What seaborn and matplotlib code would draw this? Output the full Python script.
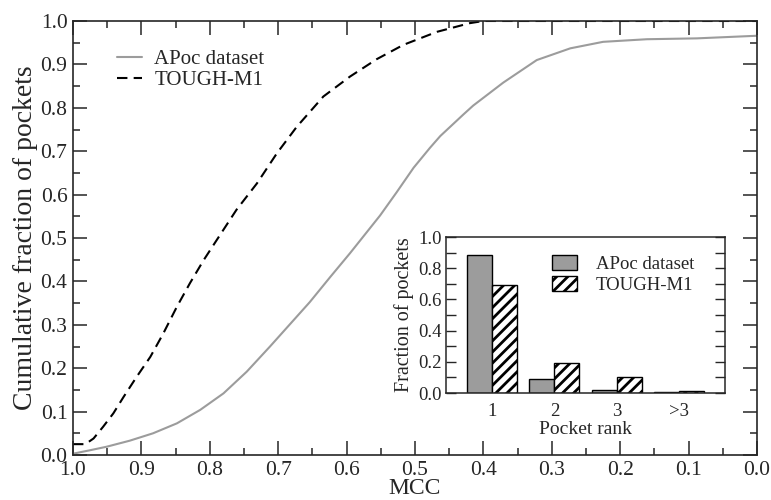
import matplotlib
matplotlib.use("Agg")
import matplotlib.pyplot as plt
import seaborn as sns
import pandas as pd
from matplotlib.ticker import MultipleLocator

# Cumulative fraction of pockets as a function of the MCC threshold
apoc_mcc = [1.0, 0.975, 0.951, 0.917, 0.883, 0.848, 0.814, 0.780, 0.746,
            0.712, 0.683, 0.654, 0.624, 0.595, 0.551, 0.527, 0.502, 0.478,
            0.463, 0.429, 0.415, 0.371, 0.322, 0.273, 0.225, 0.161, 0.088,
            0.0]
apoc_cum = [0.003, 0.011, 0.019, 0.033, 0.050, 0.073, 0.104, 0.142, 0.192,
            0.250, 0.301, 0.352, 0.410, 0.465, 0.552, 0.605, 0.662, 0.708,
            0.735, 0.785, 0.805, 0.858, 0.910, 0.937, 0.952, 0.958, 0.960,
            0.966]

tough_mcc = [1.0, 0.982, 0.970, 0.956, 0.941, 0.926, 0.907, 0.887, 0.868,
             0.848, 0.829, 0.809, 0.790, 0.761, 0.731, 0.702, 0.673, 0.634,
             0.595, 0.556, 0.517, 0.468, 0.420, 0.400, 0.0]
tough_cum = [0.025, 0.025, 0.038, 0.065, 0.096, 0.134, 0.180, 0.226, 0.280,
             0.342, 0.396, 0.449, 0.495, 0.565, 0.626, 0.695, 0.756, 0.826,
             0.872, 0.912, 0.945, 0.975, 0.995, 1.0, 1.0]

# Distribution of the rank of the best pocket
ranks = ["1", "2", "3", ">3"]
apoc_rank_frac = [0.885, 0.091, 0.021, 0.008]
tough_rank_frac = [0.69, 0.192, 0.104, 0.016]

series_names = ["APoc dataset", "TOUGH-M1"]

sns.set_style("ticks")
plt.rcParams["font.family"] = ["Liberation Serif", "DejaVu Serif"]
plt.rcParams["hatch.linewidth"] = 2.0
plt.rcParams["axes.linewidth"] = 1.2

fig = plt.figure(figsize=(7.71, 5.0), dpi=100)
ax = fig.add_axes([73 / 771, 45 / 500, 684 / 771, 434 / 500])

gray = "#9c9c9c"
sns.lineplot(x=apoc_mcc, y=apoc_cum, ax=ax, color=gray, lw=1.5,
             sort=False, estimator=None, label=series_names[0])
sns.lineplot(x=tough_mcc, y=tough_cum, ax=ax, color="black", lw=1.5,
             sort=False, estimator=None, label=series_names[1],
             linestyle=(0, (5, 3)))

ax.set_xlim(1.0, 0.0)
ax.set_ylim(0.0, 1.0)
ax.xaxis.set_major_locator(MultipleLocator(0.1))
ax.xaxis.set_minor_locator(MultipleLocator(0.05))
ax.yaxis.set_major_locator(MultipleLocator(0.1))
ax.yaxis.set_minor_locator(MultipleLocator(0.05))
ax.xaxis.set_major_formatter(plt.FormatStrFormatter("%.1f"))
ax.yaxis.set_major_formatter(plt.FormatStrFormatter("%.1f"))
ax.tick_params(which="both", direction="in", top=True, right=True,
               labelsize=15.5, width=1.1)
ax.tick_params(which="major", length=10, pad=4)
ax.tick_params(which="minor", length=5)
ax.set_xlabel("MCC", fontsize=17, labelpad=-1)
ax.set_ylabel("Cumulative fraction of pockets", fontsize=20, labelpad=2)
for s in ax.spines.values():
    s.set_visible(True)

ax.legend(loc="upper left", bbox_to_anchor=(0.064, 0.935), frameon=False,
          fontsize=15, handlelength=1.2, handletextpad=0.6,
          labelspacing=0.1, borderaxespad=0, borderpad=0)

# Inset: pocket rank distribution
ins = fig.add_axes([446 / 771, 107 / 500, 279 / 771, 156 / 500])
rank_df = pd.DataFrame({
    "rank": ranks * 2,
    "frac": apoc_rank_frac + tough_rank_frac,
    "set": [series_names[0]] * len(ranks) + [series_names[1]] * len(ranks),
})
sns.barplot(data=rank_df, x="rank", y="frac", hue="set", ax=ins,
            palette=[gray, "white"], edgecolor="black", linewidth=1.0,
            saturation=1, width=0.8, legend=False)
for bar in ins.containers[1]:
    bar.set_hatch("///")
for cont, name in zip(ins.containers, series_names):
    cont.set_label(name)

ins.set_xlim(-0.74, 3.74)
ins.set_ylim(0.0, 1.0)
ins.yaxis.set_major_locator(MultipleLocator(0.2))
ins.yaxis.set_minor_locator(MultipleLocator(0.1))
ins.yaxis.set_major_formatter(plt.FormatStrFormatter("%.1f"))
ins.tick_params(axis="y", which="both", direction="in", right=True,
                labelsize=13.5, width=1.0)
ins.tick_params(axis="y", which="major", length=7, pad=3)
ins.tick_params(axis="y", which="minor", length=7)
ins.tick_params(axis="x", length=0, labelsize=13.5, pad=7)
ins.set_xlabel("Pocket rank", fontsize=14, labelpad=1)
ins.set_ylabel("Fraction of pockets", fontsize=14.5, labelpad=3)
for s in ins.spines.values():
    s.set_visible(True)
    s.set_linewidth(1.1)

ins.legend(loc="upper left", bbox_to_anchor=(0.38, 0.885), frameon=False,
           fontsize=13.5, handlelength=1.35, handleheight=0.85,
           handletextpad=1.0, labelspacing=0.15, borderaxespad=0,
           borderpad=0)

fig.savefig("out.png", dpi=100)
